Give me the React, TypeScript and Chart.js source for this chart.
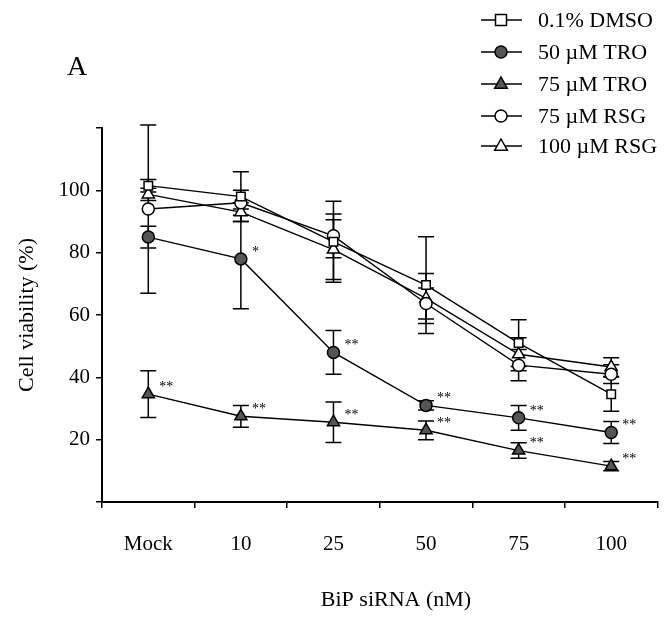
import React, { useEffect, useRef } from "react";
import { Chart, registerables } from "chart.js";

Chart.register(...registerables);

const categories = ["Mock", "10", "25", "50", "75", "100"];
const yTicks = [20, 40, 60, 80, 100];

const seriesNames = ["0.1% DMSO", "50 \u00b5M TRO", "75 \u00b5M TRO", "75 \u00b5M RSG", "100 \u00b5M RSG"];

const dmso = [101.5, 98, 83.5, 69.6, 51, 34.6];
const dmsoErr = [2, 8, 13, 15.5, 7.5, 5.5];

const tro50 = [85, 78, 48, 31, 27, 22.3];
const tro50Err = [3.5, 16, 7, 1.5, 4, 3.5];
const tro50Sig = ["", "*", "**", "**", "**", "**"];

const tro75 = [34.6, 27.5, 25.6, 23, 16.5, 11.5];
const tro75Err = [7.5, 3.5, 6.5, 3, 2.5, 1.5];
const tro75Sig = ["**", "**", "**", "**", "**", "**"];

const rsg75 = [94, 96, 85.4, 63.7, 43.9, 41];
const rsg75Err = [27, 4, 7, 5, 5, 3];

const rsg100 = [98.7, 93, 81, 65.3, 47.4, 43.3];
const rsg100Err = [2, 3, 9.6, 8, 5.3, 3];

const FONT = "'Liberation Serif', 'Times New Roman', serif";
const DARK = "#555555";

type Style = { shape: "rect" | "circle" | "triangle"; fill: string; r: number };
const styles: Style[] = [
  { shape: "rect", fill: "#ffffff", r: 6 },
  { shape: "circle", fill: DARK, r: 6 },
  { shape: "triangle", fill: DARK, r: 7 },
  { shape: "circle", fill: "#ffffff", r: 6 },
  { shape: "triangle", fill: "#ffffff", r: 7 },
];
const values = [dmso, tro50, tro75, rsg75, rsg100];
const errors = [dmsoErr, tro50Err, tro75Err, rsg75Err, rsg100Err];
const sigs = [null, tro50Sig, tro75Sig, null, null];

function drawMarker(ctx: CanvasRenderingContext2D, s: Style, x: number, y: number) {
  ctx.save();
  ctx.fillStyle = s.fill;
  ctx.strokeStyle = "#000";
  ctx.lineWidth = 1.5;
  ctx.beginPath();
  if (s.shape === "rect") {
    ctx.rect(x - s.r + 0.5, y - s.r + 0.5, 2 * s.r - 1, 2 * s.r - 1);
  } else if (s.shape === "circle") {
    ctx.arc(x, y, s.r, 0, Math.PI * 2);
  } else {
    ctx.moveTo(x, y - s.r);
    ctx.lineTo(x + s.r * 0.9, y + s.r * 0.6);
    ctx.lineTo(x - s.r * 0.9, y + s.r * 0.6);
    ctx.closePath();
  }
  ctx.fill();
  ctx.stroke();
  ctx.restore();
}

const overlayPlugin = {
  id: "overlay",
  beforeDatasetsDraw(chart: any) {
    const ctx = chart.ctx as CanvasRenderingContext2D;
    const xs = chart.scales.x;
    const ys = chart.scales.y;
    ctx.save();
    ctx.strokeStyle = "#000";
    ctx.lineWidth = 1.5;
    errors.forEach((errArr, si) => {
      errArr.forEach((e, i) => {
        const x = xs.getPixelForValue(i);
        const top = ys.getPixelForValue(values[si][i] + e);
        const bot = ys.getPixelForValue(values[si][i] - e);
        ctx.beginPath();
        ctx.moveTo(x, top);
        ctx.lineTo(x, bot);
        ctx.moveTo(x - 8, top);
        ctx.lineTo(x + 8, top);
        ctx.moveTo(x - 8, bot);
        ctx.lineTo(x + 8, bot);
        ctx.stroke();
      });
    });
    ctx.restore();
  },
  afterDatasetsDraw(chart: any) {
    const ctx = chart.ctx as CanvasRenderingContext2D;
    const xs = chart.scales.x;
    const ys = chart.scales.y;
    ctx.save();
    // significance marks
    ctx.fillStyle = "#000";
    ctx.font = `14px ${FONT}`;
    ctx.textBaseline = "middle";
    ctx.textAlign = "left";
    sigs.forEach((arr, si) => {
      if (!arr) return;
      arr.forEach((t, i) => {
        if (!t) return;
        const x = xs.getPixelForValue(i);
        const y = ys.getPixelForValue(values[si][i]);
        ctx.fillText(t, x + 11, y - 7);
      });
    });
    // panel letter
    ctx.font = `28px ${FONT}`;
    ctx.textBaseline = "alphabetic";
    ctx.fillText("A", 67, 75);
    // x axis title
    ctx.font = `22px ${FONT}`;
    ctx.textAlign = "center";
    ctx.textBaseline = "middle";
    ctx.fillText("BiP siRNA (nM)", 396, 600);
    // legend
    ctx.textAlign = "left";
    const rows = [20, 52, 84, 116, 146];
    ctx.font = `22px ${FONT}`;
    seriesNames.forEach((name, si) => {
      const y = rows[si];
      ctx.strokeStyle = "#000";
      ctx.lineWidth = 1.5;
      ctx.beginPath();
      ctx.moveTo(481, y);
      ctx.lineTo(522, y);
      ctx.stroke();
      drawMarker(ctx, styles[si], 501, y);
      ctx.fillStyle = "#000";
      ctx.fillText(name, 538, y + 1);
    });
    ctx.restore();
  },
};

export default function App() {
  const ref = useRef<HTMLCanvasElement | null>(null);
  useEffect(() => {
    if (!ref.current) return;
    const datasets = values.map((v, si) => ({
      label: seriesNames[si],
      data: v,
      borderColor: "#000",
      borderWidth: 1.4,
      backgroundColor: styles[si].fill,
      pointBackgroundColor: styles[si].fill,
      pointBorderColor: "#000",
      pointBorderWidth: 1.5,
      pointStyle: styles[si].shape,
      pointRadius: styles[si].r,
      tension: 0,
      fill: false,
    }));
    const chart = new Chart(ref.current, {
      type: "line",
      data: { labels: categories, datasets },
      plugins: [overlayPlugin],
      options: {
        animation: false,
        responsive: false,
        devicePixelRatio: 1,
        layout: { padding: { top: 128, right: 4, left: 0, bottom: 0 } },
        plugins: { legend: { display: false }, tooltip: { enabled: false } },
        scales: {
          x: {
            type: "category",
            offset: true,
            grid: { display: true, drawOnChartArea: false, color: "#000", tickLength: 6, lineWidth: 1.5, offset: true },
            border: { display: true, color: "#000", width: 2 },
            ticks: { color: "#000", font: { family: FONT, size: 21 }, padding: 24, maxRotation: 0 },
            title: { display: false },
            afterFit: (s: any) => { s.height = 117; },
          },
          y: {
            min: 0,
            max: 120,
            grid: { display: true, drawOnChartArea: false, color: "#000", tickLength: 6, lineWidth: 1.5 },
            border: { display: true, color: "#000", width: 2 },
            afterBuildTicks: (s: any) => {
              s.ticks = [0, ...yTicks, 120].map((v) => ({ value: v }));
            },
            ticks: {
              color: "#000",
              font: { family: FONT, size: 21 },
              padding: 6,
              callback: (v: any) => (yTicks.includes(Number(v)) ? String(v) : ""),
            },
            title: { display: true, text: "Cell viability (%)", color: "#000", font: { family: FONT, size: 22 }, padding: { top: 14, bottom: 0 } },
            afterFit: (s: any) => { s.width = 102; },
          },
        },
      },
    });
    return () => chart.destroy();
  }, []);
  return (
    <div style={{ position: "fixed", left: 0, top: 0, width: 666, height: 619, background: "#fff" }}>
      <canvas ref={ref} width={666} height={619} style={{ width: 666, height: 619, display: "block" }} />
    </div>
  );
}
